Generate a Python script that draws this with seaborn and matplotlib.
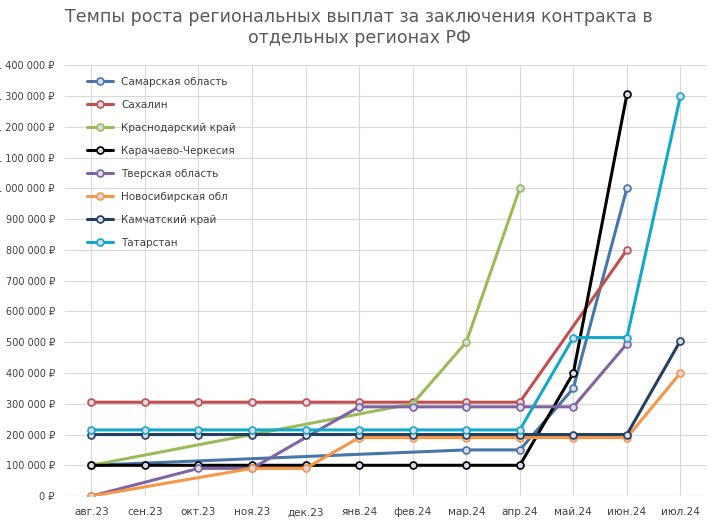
import numpy as np
import pandas as pd
import matplotlib.pyplot as plt
import seaborn as sns
from matplotlib.ticker import FuncFormatter

months = ["авг.23", "сен.23", "окт.23", "ноя.23", "дек.23", "янв.24",
          "фев.24", "мар.24", "апр.24", "май.24", "июн.24", "июл.24"]
n = np.nan
samara = [100000, n, n, n, n, n, n, 150000, 150000, 350000, 1000000, n]
sakhalin = [305000, 305000, 305000, 305000, 305000, 305000, 305000, 305000, 305000, n, 800000, n]
krasnodar = [100000, n, n, n, n, n, 300000, 500000, 1000000, n, n, n]
kchr = [100000, 100000, 100000, 100000, 100000, 100000, 100000, 100000, 100000, 400000, 1305000, n]
tver = [0, n, 90000, 90000, n, 290000, 290000, 290000, 290000, 290000, 495000, n]
novosib = [0, n, n, 90000, 90000, 190000, 190000, 190000, 190000, 190000, 190000, 400000]
kamchatka = [200000, 200000, 200000, 200000, 200000, 200000, 200000, 200000, 200000, 200000, 200000, 505000]
tatarstan = [215000, 215000, 215000, 215000, 215000, 215000, 215000, 215000, 215000, 515000, 515000, 1300000]

series = [
    ("Самарская область", samara, "#4677a8"),
    ("Сахалин", sakhalin, "#c0504d"),
    ("Краснодарский край", krasnodar, "#9bbb59"),
    ("Карачаево-Черкесия", kchr, "#000000"),
    ("Тверская область", tver, "#8064a2"),
    ("Новосибирская обл", novosib, "#f79646"),
    ("Камчатский край", kamchatka, "#243f60"),
    ("Татарстан", tatarstan, "#14a8c8"),
]

sns.set_theme(style="whitegrid")
fig, ax = plt.subplots(figsize=(7.18, 5.30), dpi=100)
fig.subplots_adjust(left=0.09, right=0.985, top=0.877, bottom=0.064)

for name, vals, col in series:
    df = pd.DataFrame({"x": np.arange(len(months)), "y": vals}).dropna()
    sns.lineplot(data=df, x="x", y="y", ax=ax, color=col, lw=2.2, label=name,
                 marker="o", markersize=5, markerfacecolor="#d9d9e8",
                 markeredgecolor=col, markeredgewidth=1.2)

ax.set_xticks(np.arange(len(months)))
ax.set_xticklabels(months, fontsize=7.5, color="#404040")
ax.set_xlim(-0.5, len(months) - 0.5)
ax.set_ylim(0, 1400000)
ax.set_yticks(np.arange(0, 1400001, 100000))
ax.yaxis.set_major_formatter(FuncFormatter(lambda v, p: f"{int(v):,}".replace(",", " ") + " ₽"))
ax.tick_params(axis="y", labelsize=7, labelcolor="#404040", pad=1)
ax.tick_params(axis="x", pad=2)
ax.set_xlabel("")
ax.set_ylabel("")
ax.grid(color="#d9d9d9", lw=0.8)
for s in ax.spines.values():
    s.set_visible(False)
ax.axhline(0, color="#bfbfbf", lw=0.8)
leg = ax.legend(loc="upper left", frameon=False, fontsize=7.5, labelspacing=1.25,
                handlelength=2.5, bbox_to_anchor=(0.02, 0.995))
for t in leg.get_texts():
    t.set_color("#404040")
fig.suptitle("Темпы роста региональных выплат за заключения контракта в\nотдельных регионах РФ",
             fontsize=12.5, color="#595959", y=0.985)
plt.savefig("out.png")
